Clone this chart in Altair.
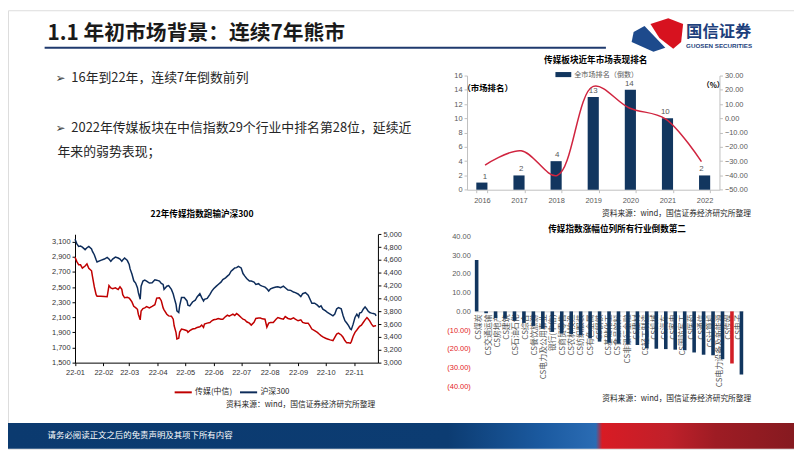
import altair as alt
import pandas as pd

W, H = 794, 443
CJK = "Noto Sans CJK SC"
NUM = "Liberation Sans"

# ---------------- texts ----------------
page_title = "1.1 年初市场背景：连续7年熊市"
bullet_mark = "➢"
bullet_1 = "16年到22年，连续7年倒数前列"
bullet_2a = "2022年传媒板块在中信指数29个行业中排名第28位，延续近"
bullet_2b = "年来的弱势表现；"
title_line = "22年传媒指数跑输沪深300"
title_rank = "传媒板块近年市场表现排名"
title_ind = "传媒指数涨幅位列所有行业倒数第二"
source_text = "资料来源：wind，国信证券经济研究所整理"
footer_text = "请务必阅读正文之后的免责声明及其项下所有内容"
logo_cn = "国信证券"
logo_en = "GUOSEN SECURITIES"
rank_axis_note = "（市场排名）"
pct_axis_note = "（%）"

# ---------------- line chart data ----------------
line_series = ["传媒(中信)", "沪深300"]
line_dates = [
    "2022-01-01", "2022-01-03", "2022-01-05", "2022-01-07", "2022-01-09", "2022-01-12", "2022-01-14",
    "2022-01-16", "2022-01-19", "2022-01-20", "2022-01-22", "2022-01-24", "2022-01-25", "2022-01-29",
    "2022-02-02", "2022-02-05", "2022-02-07", "2022-02-09", "2022-02-11", "2022-02-14", "2022-02-17",
    "2022-02-19", "2022-02-21", "2022-02-22", "2022-02-24", "2022-02-27",
    "2022-03-01", "2022-03-02", "2022-03-04", "2022-03-06", "2022-03-08", "2022-03-10", "2022-03-11",
    "2022-03-13", "2022-03-14", "2022-03-16", "2022-03-18", "2022-03-20", "2022-03-23", "2022-03-26",
    "2022-03-29", "2022-03-31",
    "2022-04-03", "2022-04-05", "2022-04-07", "2022-04-08", "2022-04-11", "2022-04-13", "2022-04-16",
    "2022-04-18", "2022-04-19", "2022-04-21", "2022-04-22", "2022-04-24", "2022-04-25", "2022-04-27",
    "2022-04-30",
    "2022-05-03", "2022-05-04", "2022-05-06", "2022-05-09", "2022-05-12", "2022-05-14", "2022-05-17",
    "2022-05-19", "2022-05-21", "2022-05-22", "2022-05-25", "2022-05-28", "2022-05-30",
    "2022-06-01", "2022-06-04", "2022-06-06", "2022-06-09", "2022-06-11", "2022-06-14", "2022-06-16",
    "2022-06-18", "2022-06-20", "2022-06-22", "2022-06-24", "2022-06-26", "2022-06-28",
    "2022-07-01", "2022-07-03", "2022-07-05", "2022-07-07", "2022-07-10", "2022-07-12", "2022-07-15",
    "2022-07-17", "2022-07-20", "2022-07-22", "2022-07-24", "2022-07-27", "2022-07-29", "2022-07-31",
    "2022-08-02", "2022-08-05", "2022-08-08", "2022-08-10", "2022-08-13", "2022-08-16", "2022-08-18",
    "2022-08-21", "2022-08-24", "2022-08-27", "2022-08-29",
    "2022-09-01", "2022-09-04", "2022-09-06", "2022-09-09", "2022-09-12", "2022-09-14", "2022-09-16",
    "2022-09-19", "2022-09-22", "2022-09-24", "2022-09-26", "2022-09-28",
    "2022-10-01", "2022-10-03", "2022-10-06", "2022-10-09", "2022-10-11", "2022-10-13", "2022-10-15",
    "2022-10-18", "2022-10-20", "2022-10-22", "2022-10-24", "2022-10-26", "2022-10-28", "2022-10-29",
    "2022-10-31",
    "2022-11-02", "2022-11-04", "2022-11-06", "2022-11-07", "2022-11-09", "2022-11-11", "2022-11-13",
    "2022-11-15", "2022-11-16", "2022-11-18", "2022-11-20", "2022-11-22", "2022-11-24", "2022-11-25",
]
media_index = [
    2895, 2838, 2795, 2795, 2751, 2780, 2808, 2750, 2716, 2642, 2505, 2400, 2380, 2380,
    2375, 2372, 2520, 2490, 2480, 2490, 2468, 2503, 2470, 2400, 2359, 2365,
    2355, 2340, 2305, 2245, 2228, 2206, 2141, 2067, 2184, 2215, 2225, 2241, 2225, 2245, 2267, 2355,
    2359, 2320, 2225, 2200, 2141, 2119, 2115, 2075, 1988, 1901, 1814, 1823, 1905, 1945, 1936,
    1923, 1901, 1923, 1945, 1953, 1966, 1975, 1997, 1966, 2010, 2023, 2032, 2054,
    2067, 2075, 2084, 2075, 2075, 2110, 2130, 2115, 2128, 2141, 2125, 2150, 2132,
    2097, 2075, 2067, 2041, 2023, 1997, 2035, 2085, 2090, 2090, 2080, 2075, 1970, 2023,
    2032, 2032, 2075, 2097, 2085, 2075, 2110, 2085, 2075, 2092, 2075,
    2054, 2067, 2032, 2023, 2023, 1988, 1945, 1923, 1901, 1879, 1858, 1840,
    1823, 1814, 1801, 1792, 1836, 1879, 1892, 1866, 1836, 1792, 1762, 1762, 1757, 1779, 1849,
    1901, 1932, 1966, 1980, 1997, 2032, 2067, 2097, 2084, 2054, 2010, 1980, 1988, 1988,
]
hs300_index = [
    4922, 4850, 4810, 4815, 4800, 4760, 4790, 4809, 4770, 4732, 4681, 4604, 4568, 4593,
    4614, 4640, 4614, 4578, 4614, 4645, 4630, 4614, 4578, 4600, 4629, 4590,
    4530, 4460, 4380, 4275, 4240, 4167, 4090, 3987, 4192, 4270, 4285, 4270, 4240, 4244, 4290, 4285,
    4270, 4234, 4218, 4141, 4190, 4200, 4141, 4070, 4013, 3910, 3807, 3781, 3884, 4013, 4013,
    3961, 3894, 3884, 3945, 3972, 4023, 4074, 4013, 3961, 3987, 4000, 4064, 4115,
    4151, 4192, 4218, 4254, 4295, 4321, 4347, 4372, 4424, 4449, 4475, 4480, 4501,
    4475, 4388, 4347, 4311, 4270, 4270, 4254, 4218, 4230, 4203, 4192, 4177, 4151, 4115,
    4151, 4167, 4177, 4182, 4167, 4192, 4167, 4131, 4126, 4100, 4090,
    4070, 4028, 4074, 4090, 4050, 3987, 3925, 3925, 3895, 3865, 3884, 3833,
    3807, 3781, 3756, 3730, 3756, 3835, 3858, 3840, 3735, 3653, 3617, 3576, 3524, 3514, 3600,
    3704, 3756, 3710, 3771, 3781, 3833, 3869, 3833, 3807, 3781, 3771, 3766, 3756, 3730,
]
media_ticks = [1500, 1700, 1900, 2100, 2300, 2500, 2700, 2900, 3100]
hs300_ticks = [3000, 3200, 3400, 3600, 3800, 4000, 4200, 4400, 4600, 4800, 5000]

# ---------------- ranking chart data ----------------
years = ["2016", "2017", "2018", "2019", "2020", "2021", "2022"]
rank_from_bottom = [1, 2, 4, 13, 14, 10, 2]
media_annual_return = [-32.7, -22.7, -40.0, 22.4, 7.3, -0.3, -30.3]
rank_legend = "全市场排名（倒数）"
rank_ticks = [0, 2, 4, 6, 8, 10, 12, 14, 16]
return_ticks = [-50, -40, -30, -20, -10, 0, 10, 20, 30]

# ---------------- industry chart data ----------------
industries = ["CS煤炭", "CS交通运输", "CS房地产", "CS建筑", "CS石油石化", "CS综合", "CS餐饮旅游",
              "CS电力及公用事业", "银行(中信)", "CS商贸零售", "CS农林牧渔", "CS纺织服装", "CS有色金属",
              "CS钢铁", "CS基础化工", "CS食品饮料", "CS非银行金融", "CS建材", "CS轻工制造", "CS机械",
              "CS汽车", "CS家电", "CS国防军工", "CS医药", "CS通信", "CS计算机", "CS电力设备及新能源",
              "CS传媒", "CS电子"]
industry_return = [27.5, -1.0, -3.6, -3.9, -5.0, -6.2, -7.8, -9.3, -11.0, -11.8, -12.2, -12.8, -14.5,
                   -16.2, -16.8, -17.3, -17.6, -18.0, -19.8, -20.0, -20.2, -20.5, -20.8, -22.0, -23.2,
                   -23.5, -25.6, -27.9, -33.8]
industry_ticks = [-40, -30, -20, -10, 0, 10, 20, 30, 40]
highlight = "CS传媒"

# ---------------- colours ----------------
C_RED = "#c00000"
C_NAVY = "#0d2c5a"
C_BAR = "#12365f"
C_RED2 = "#d0243f"
C_RED3 = "#d21f26"
C_HEAD = "#1f3a6e"

one = pd.DataFrame({"k": [0]})


def label(s, x, y, size, color="#000000", weight="normal", align="left", font=CJK):
    return alt.Chart(one).mark_text(
        text=s, align=align, baseline="middle", fontSize=size, fontWeight=weight, color=color, font=font
    ).encode(x=alt.value(x), y=alt.value(y))


layers = []

# ---------- footer band ----------
footer_fill = {
    "gradient": "linear", "x1": 0, "y1": 0, "x2": 1, "y2": 0,
    "stops": [
        {"offset": 0.0, "color": "#0b3a6f"},
        {"offset": 0.56, "color": "#0c3c72"},
        {"offset": 0.68, "color": "#1b5aa0"},
        {"offset": 0.748, "color": "#2b6cb4"},
        {"offset": 0.756, "color": "#d81b24"},
        {"offset": 0.84, "color": "#c0202a"},
        {"offset": 0.9, "color": "#9e1c24"},
        {"offset": 1.0, "color": "#861a20"},
    ],
}
layers.append(alt.Chart(one).mark_rect(fill=footer_fill).encode(
    x=alt.value(0), x2=alt.value(W), y=alt.value(417), y2=alt.value(H)))
layers.append(label(footer_text, 40, 429.5, 8.5, color="#ffffff"))

# ---------- header ----------
layers.append(label(page_title, 40, 24.5, 21, color="#1a1a1a", weight="bold"))
layers.append(alt.Chart(one).mark_rule(color=C_HEAD, strokeWidth=2).encode(
    x=alt.value(37), x2=alt.value(604), y=alt.value(38)))
navy_shape = "M-0.65,-0.45L0.4,0.65L-0.2,0.85L-1.3,0.35L-1.2,-0.15Z"
red_shape = "M-0.35,-0.55L0.55,-0.85L1.3,-0.55L1.2,0.35L0.8,0.7L0.1,0.15Z"
layers.append(alt.Chart(one).mark_point(shape=navy_shape, size=1600, filled=True, color="#1d4a8c",
                                         opacity=1, strokeWidth=0).encode(x=alt.value(656), y=alt.value(25)))
layers.append(alt.Chart(one).mark_point(shape=red_shape, size=1600, filled=True, color="#d7121f",
                                         opacity=1, strokeWidth=0).encode(x=alt.value(656), y=alt.value(25)))
layers.append(label(logo_cn, 685, 22, 16.5, color="#1d3f7c", weight="bold"))
layers.append(label(logo_en, 685, 36.5, 6.3, color="#1d3f7c", weight="bold", font=NUM))

# ---------- bullets ----------
layers.append(label(bullet_mark, 48, 68, 12, color="#404040", font="DejaVu Sans"))
layers.append(label(bullet_1, 64, 68, 13, color="#262626"))
layers.append(label(bullet_mark, 48, 119, 12, color="#404040", font="DejaVu Sans"))
layers.append(label(bullet_2a, 64, 119, 13, color="#262626"))
layers.append(label(bullet_2b, 50, 143, 13, color="#262626"))

# ---------- line chart ----------
df_line = pd.DataFrame({"date": line_dates, "media": media_index, "hs300": hs300_index})
LX0, LX1, LYB, LYT = 67.7, 373.7, 356.0, 226.3
x_line = alt.Scale(domain=[alt.DateTime(year=2022, month=1, date=1), alt.DateTime(year=2022, month=11, date=27)],
                   range=[LX0, LX1], nice=False)
y_media = alt.Scale(domain=[1500, 3200], range=[LYB, LYT], nice=False, zero=False)
y_hs = alt.Scale(domain=[3000, 5000], range=[LYB, LYT], nice=False, zero=False)
color_line = alt.Scale(domain=line_series, range=[C_RED, C_NAVY])
axis_dark = dict(grid=False, title=None, domainColor="#000000", tickColor="#000000", tickSize=3,
                 labelColor="#333333", labelFont=NUM, labelFontSize=7.5, labelOverlap=False, labelFlush=False)

layers.append(alt.Chart(df_line).transform_calculate(s="'传媒(中信)'").mark_line(strokeWidth=1.5).encode(
    x=alt.X("date:T", scale=x_line, axis=alt.Axis(
        orient="bottom", offset=LYB - H, format="%y-%m", labelPadding=3,
        values=[alt.DateTime(year=2022, month=m, date=1) for m in range(1, 12)], **axis_dark)),
    y=alt.Y("media:Q", scale=y_media, axis=alt.Axis(orient="left", offset=-LX0, values=media_ticks,
                                                    format=",.0f", **axis_dark)),
    color=alt.Color("s:N", scale=color_line, legend=alt.Legend(
        orient="none", legendX=167, legendY=376, direction="horizontal", title=None,
        symbolType="stroke", symbolStrokeWidth=2, symbolSize=300, labelFontSize=8, labelFont=CJK,
        labelColor="#262626", columnPadding=3, labelOffset=2, padding=0)),
))
layers.append(alt.Chart(df_line).transform_calculate(s="'沪深300'").mark_line(strokeWidth=1.5).encode(
    x=alt.X("date:T", scale=x_line, axis=None),
    y=alt.Y("hs300:Q", scale=y_hs, axis=alt.Axis(orient="right", offset=LX1 - W, values=hs300_ticks,
                                                 format=",.0f", **axis_dark)),
    color=alt.Color("s:N", scale=color_line, legend=None),
))
layers.append(label(title_line, 196, 206, 8.7, weight="bold", align="center"))
layers.append(label(source_text, 220.3, 398.7, 7.8, color="#262626"))

# ---------- ranking chart ----------
df_rank = pd.DataFrame({"year": years, "rank": rank_from_bottom, "ret": media_annual_return})
RX0, RX1, RYB, RYT = 463.7, 718.7, 181.3, 66.0
x_year = alt.Scale(domain=years, range=[RX0, RX1], paddingInner=0.7, paddingOuter=0.25)
y_rank = alt.Scale(domain=[0, 16], range=[RYB, RYT], nice=False)
y_ret = alt.Scale(domain=[-50, 30], range=[RYB, RYT], nice=False, zero=False)
axis_gray = dict(grid=False, title=None, domainColor="#bfbfbf", tickColor="#bfbfbf", tickSize=3,
                 labelColor="#595959", labelFont=NUM, labelFontSize=7.5)

layers.append(alt.Chart(df_rank).transform_calculate(lg="'" + rank_legend + "'").mark_bar().encode(
    x=alt.X("year:N", scale=x_year, axis=alt.Axis(orient="bottom", offset=RYB - H, tickBand="extent",
                                                  labelPadding=4, labelAngle=0, **axis_gray)),
    y=alt.Y("rank:Q", scale=y_rank, axis=alt.Axis(orient="left", offset=-RX0, values=rank_ticks, **axis_gray)),
    color=alt.Color("lg:N", scale=alt.Scale(domain=[rank_legend], range=[C_BAR]), legend=alt.Legend(
        orient="none", legendX=553, legendY=57, title=None, symbolType="M-1,-0.32H1V0.32H-1Z",
        symbolSize=256, symbolStrokeWidth=0, labelFontSize=7.2, labelFont=CJK, labelColor="#595959",
        labelOffset=3, padding=0)),
))
layers.append(alt.Chart(df_rank).mark_text(dy=-6, fontSize=8, color="#595959", font=NUM).encode(
    x=alt.X("year:N", scale=x_year, axis=None),
    y=alt.Y("rank:Q", scale=y_rank, axis=None),
    text=alt.Text("rank:Q"),
))
layers.append(alt.Chart(df_rank).mark_line(interpolate="catmull-rom", color=C_RED2, strokeWidth=1.5).encode(
    x=alt.X("year:N", scale=x_year, axis=None),
    y=alt.Y("ret:Q", scale=y_ret, axis=alt.Axis(orient="right", offset=RX1 - W, values=return_ticks,
                                                format=".2f", **axis_gray)),
))
layers.append(label(title_rank, 593.7, 50.5, 8.7, weight="bold", align="center"))
layers.append(label(rank_axis_note, 459, 78.7, 8.5, weight="bold"))
layers.append(label(pct_axis_note, 723.5, 76.3, 7.5, weight="bold", align="right"))
layers.append(label(source_text, 600, 206, 7.8, color="#262626"))

# ---------- industry chart ----------
df_ind = pd.DataFrame({"ind": industries, "ret": industry_return})
IX0, IX1, IYB, IYT = 471.6, 742.7, 379.7, 228.7
x_ind = alt.Scale(domain=industries, range=[IX0, IX1], paddingInner=0.62, paddingOuter=0)
y_ind = alt.Scale(domain=[-40, 40], range=[IYB, IYT], nice=False)
zero_y = (IYB + IYT) / 2

layers.append(alt.Chart(df_ind).mark_text(angle=270, align="right", baseline="middle", dx=-3, fontSize=8,
                                          color="#595959", font=CJK).encode(
    x=alt.X("ind:N", scale=x_ind, axis=alt.Axis(orient="bottom", offset=zero_y - H, labels=False,
                                                ticks=False, domainColor="#d9d9d9", grid=False, title=None)),
    y=alt.YDatum(0, scale=y_ind, axis=None),
    text=alt.Text("ind:N"),
))
layers.append(alt.Chart(df_ind).mark_bar().encode(
    x=alt.X("ind:N", scale=x_ind, axis=None),
    y=alt.Y("ret:Q", scale=y_ind, axis=alt.Axis(
        orient="left", offset=-469, values=industry_ticks, domain=False, ticks=False, grid=False, title=None,
        labelExpr="datum.value < 0 ? '(' + format(-datum.value, '.2f') + ')' : format(datum.value, '.2f')",
        labelColor={"condition": {"test": "datum.value < 0", "value": "#e31a1c"}, "value": "#595959"},
        labelFont=NUM, labelFontSize=7.5, labelPadding=2)),
    color=alt.condition(alt.datum.ind == highlight, alt.value(C_RED3), alt.value(C_BAR)),
))
layers.append(label(title_ind, 615.3, 221, 8.7, weight="bold", align="center"))
layers.append(label(source_text, 600.3, 392.7, 7.8, color="#262626"))

chart = alt.layer(*layers).resolve_scale(
    x="independent", y="independent", color="independent"
).properties(width=W, height=H, padding=0, background="white").configure_view(strokeWidth=0).configure(font=CJK)

chart.save("out.html", embed_options={"renderer": "svg", "actions": False})
